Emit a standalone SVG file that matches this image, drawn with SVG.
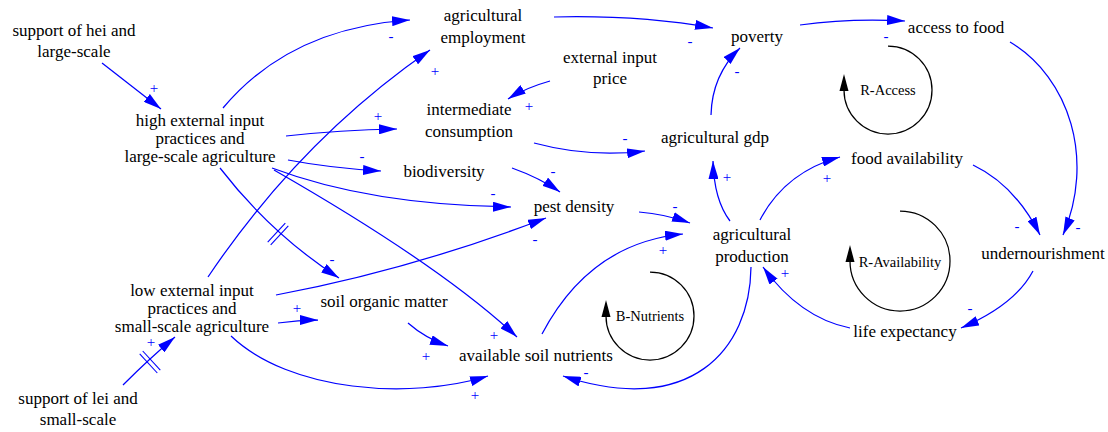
<svg xmlns="http://www.w3.org/2000/svg" width="1108" height="432" viewBox="0 0 1108 432">
<style>
.n{font-family:"Liberation Serif","Times New Roman",serif;font-size:17px;fill:#000;text-anchor:middle}
.l{font-family:"Liberation Serif","Times New Roman",serif;font-size:14.5px;fill:#000;text-anchor:middle}
.p{font-family:"Liberation Serif","Times New Roman",serif;font-size:15px;fill:#0000ff;text-anchor:middle}
.c{fill:none;stroke:#0000ff;stroke-width:1.25;marker-end:url(#ah)}
.h{stroke:#0000ff;stroke-width:1.1}
.lp{fill:none;stroke:#000;stroke-width:1.25}
</style>
<defs>
<marker id="ah" viewBox="0 0 18 10" refX="18" refY="5" markerWidth="18" markerHeight="10" markerUnits="userSpaceOnUse" orient="auto"><path d="M0,0 L18,5 L0,10 z" fill="#0000ff"/></marker>
</defs>
<rect width="1108" height="432" fill="#fff"/>
<g id="connectors">
<path class="c" d="M102,63 L161,109"/>
<path class="c" d="M223,108 Q290,28 410,20"/>
<path class="c" d="M208,277 Q300,140 430,50"/>
<path class="c" d="M286,136 Q340,130 397,129"/>
<path class="c" d="M288,160 Q330,168 381,171"/>
<path class="c" d="M272,168 Q370,205 511,207"/>
<path class="c" d="M274,170 Q440,265 517,337"/>
<path class="c" d="M220,168 Q271,234 339,278"/>
<line class="h" x1="267.7" y1="242.1" x2="285.3" y2="223.1"/>
<line class="h" x1="270.7" y1="244.9" x2="288.3" y2="225.9"/>
<path class="c" d="M278,323 Q298,320 318,320"/>
<path class="c" d="M276,295 Q410,270 546,218"/>
<path class="c" d="M231,336 C290,392 410,400 488,376"/>
<path class="c" d="M123,385 Q150,358 175,337"/>
<line class="h" x1="139.7" y1="353.8" x2="157.3" y2="373"/>
<line class="h" x1="142.7" y1="351" x2="160.3" y2="370.2"/>
<path class="c" d="M408,323 Q425,338 448,346"/>
<path class="c" d="M512,168 Q540,178 560,192"/>
<path class="c" d="M550,81 Q525,88 508,99"/>
<path class="c" d="M534,143 Q590,158 645,151"/>
<path class="c" d="M554,17 Q640,15 713,28"/>
<path class="c" d="M711,115 Q712,75 740,48"/>
<path class="c" d="M800,25 Q850,18 905,21"/>
<path class="c" d="M1010,42 C1070,78 1095,160 1063,235"/>
<path class="c" d="M973,165 Q1015,185 1040,235"/>
<path class="c" d="M1033,271 Q1015,305 961,328"/>
<path class="c" d="M850,328 Q800,318 763,267"/>
<path class="c" d="M730,221 Q714,200 713,161"/>
<path class="c" d="M760,220 Q785,172 840,157"/>
<path class="c" d="M639,212 Q665,214 690,223"/>
<path class="c" d="M542,334 Q590,243 683,234"/>
<path class="c" d="M751,267 C750,350 690,418 563,376"/>
</g>
<g id="polarities">
<text class="p" x="154" y="93">+</text>
<text class="p" x="391" y="41">-</text>
<text class="p" x="435" y="76">+</text>
<text class="p" x="378" y="121">+</text>
<text class="p" x="362" y="161">-</text>
<text class="p" x="493" y="198">-</text>
<text class="p" x="494" y="340">+</text>
<text class="p" x="332" y="264">-</text>
<text class="p" x="297" y="313">+</text>
<text class="p" x="535" y="244">-</text>
<text class="p" x="475" y="400">+</text>
<text class="p" x="151" y="347">+</text>
<text class="p" x="426" y="361">+</text>
<text class="p" x="553" y="176">-</text>
<text class="p" x="529" y="111">+</text>
<text class="p" x="625" y="143">-</text>
<text class="p" x="690" y="46">-</text>
<text class="p" x="737" y="76">-</text>
<text class="p" x="886" y="41">-</text>
<text class="p" x="1078" y="232">-</text>
<text class="p" x="1017" y="231">-</text>
<text class="p" x="970" y="313">-</text>
<text class="p" x="785" y="278">+</text>
<text class="p" x="727" y="182">+</text>
<text class="p" x="827" y="183">+</text>
<text class="p" x="675" y="211">-</text>
<text class="p" x="663" y="255">+</text>
<text class="p" x="586" y="377">-</text>
</g>
<g id="loop-r-access">
<path class="lp" d="M888,46 A44,44 0 1 1 844,90"/>
<polygon points="844,74 839.5,91 848.5,91" fill="#000"/>
<text class="l" x="888" y="95">R-Access</text>
</g>
<g id="loop-r-availability">
<path class="lp" d="M900,211 A50,50 0 1 1 850,261"/>
<polygon points="850,245 845.5,262 854.5,262" fill="#000"/>
<text class="l" x="900" y="267">R-Availability</text>
</g>
<g id="loop-b-nutrients">
<path class="lp" d="M650,272 A44,44 0 1 1 606,316"/>
<polygon points="606,300 601.5,317 610.5,317" fill="#000"/>
<text class="l" x="650" y="321">B-Nutrients</text>
</g>
<g id="support-hei"><text class="n" x="74" y="36">support of hei and</text><text class="n" x="74" y="57">large-scale</text></g>
<g id="high-external"><text class="n" x="200" y="125.5">high external input</text><text class="n" x="200" y="143.5">practices and</text><text class="n" x="200" y="162">large-scale agriculture</text></g>
<g id="agricultural-employment"><text class="n" x="483" y="20.5">agricultural</text><text class="n" x="483" y="42.5">employment</text></g>
<g id="poverty"><text class="n" x="757" y="42">poverty</text></g>
<g id="access-to-food"><text class="n" x="956" y="32.5">access to food</text></g>
<g id="external-input-price"><text class="n" x="610" y="62.5">external input</text><text class="n" x="610" y="83.5">price</text></g>
<g id="intermediate-consumption"><text class="n" x="469" y="115">intermediate</text><text class="n" x="469" y="137">consumption</text></g>
<g id="agricultural-gdp"><text class="n" x="715" y="143">agricultural gdp</text></g>
<g id="biodiversity"><text class="n" x="444" y="177">biodiversity</text></g>
<g id="pest-density"><text class="n" x="574" y="211.5">pest density</text></g>
<g id="agricultural-production"><text class="n" x="752" y="240">agricultural</text><text class="n" x="752" y="262">production</text></g>
<g id="food-availability"><text class="n" x="907" y="164">food availability</text></g>
<g id="undernourishment"><text class="n" x="1043" y="259">undernourishment</text></g>
<g id="life-expectancy"><text class="n" x="905" y="337">life expectancy</text></g>
<g id="available-soil-nutrients"><text class="n" x="536" y="361">available soil nutrients</text></g>
<g id="soil-organic-matter"><text class="n" x="384" y="307">soil organic matter</text></g>
<g id="low-external"><text class="n" x="192" y="296">low external input</text><text class="n" x="192" y="314">practices and</text><text class="n" x="192" y="332">small-scale agriculture</text></g>
<g id="support-lei"><text class="n" x="78" y="404">support of lei and</text><text class="n" x="78" y="425">small-scale</text></g>
</svg>
